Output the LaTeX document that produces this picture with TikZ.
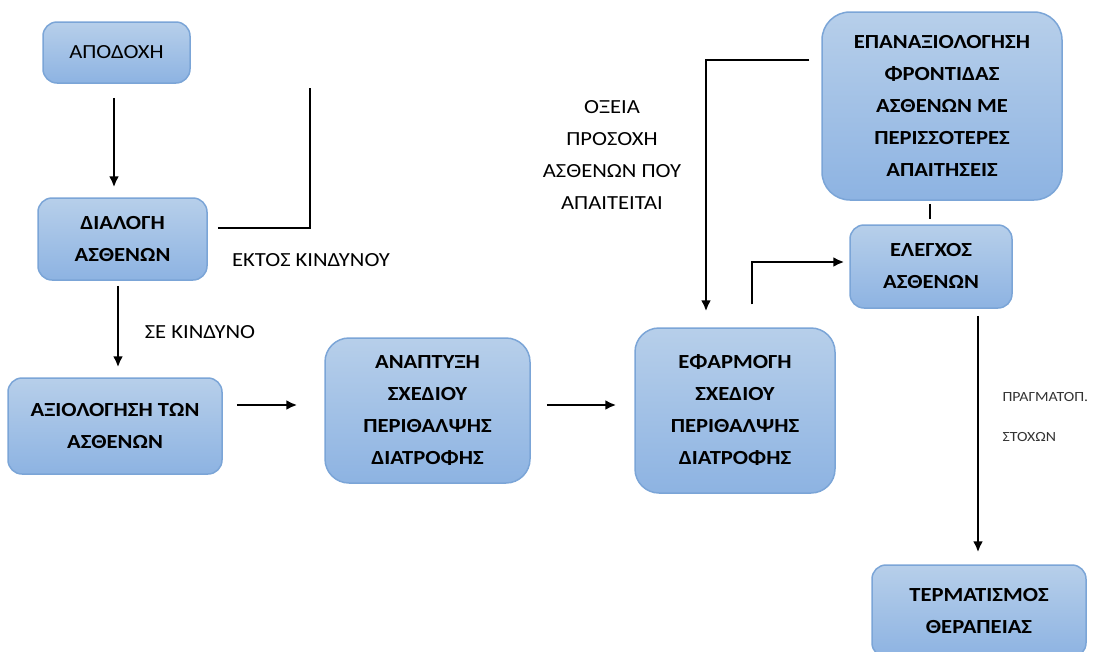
\documentclass[tikz,border=0pt]{standalone}
\usepackage{fontspec}
\setmainfont{Carlito}[FakeStretch=1.13]
\usetikzlibrary{arrows.meta}
\definecolor{boxtop}{HTML}{B7CFEA}
\definecolor{boxbot}{HTML}{8DB3E2}
\definecolor{boxline}{HTML}{7BA5D7}
\tikzset{
 box/.style={draw=boxline, line width=1.5pt, top color=boxtop, bottom color=boxbot, rounded corners=14pt, align=center, font=\fontsize{20}{32}\selectfont\bfseries, inner sep=0pt},
 arr/.style={line width=2.8pt, -{Latex[length=11pt,width=10pt]}},
 conn/.style={line width=2.8pt},
 lbl/.style={align=center, font=\fontsize{20}{32}\selectfont}
}
\begin{document}
\begin{tikzpicture}[x=1pt, y=-1pt]
\useasboundingbox (0,0) rectangle (1108,651);
\clip (0,0) rectangle (1108,651);

% boxes
\node[box, font=\fontsize{20}{32}\selectfont, minimum width=147pt, minimum height=61pt] (apod) at (116.5,52.5) {ΑΠΟΔΟΧΗ};
\node[box, minimum width=169pt, minimum height=82pt] (dial) at (122.5,239) {ΔΙΑΛΟΓΗ\\ΑΣΘΕΝΩΝ};
\node[box, minimum width=214pt, minimum height=96pt] (axiol) at (115,426) {ΑΞΙΟΛΟΓΗΣΗ ΤΩΝ\\ΑΣΘΕΝΩΝ};
\node[box, rounded corners=24pt, minimum width=205pt, minimum height=145pt] (anapt) at (427.5,410.5) {ΑΝΑΠΤΥΞΗ\\ΣΧΕΔΙΟΥ\\ΠΕΡΙΘΑΛΨΗΣ\\ΔΙΑΤΡΟΦΗΣ};
\node[box, rounded corners=24pt, minimum width=200pt, minimum height=165pt] (efarm) at (735,410.5) {ΕΦΑΡΜΟΓΗ\\ΣΧΕΔΙΟΥ\\ΠΕΡΙΘΑΛΨΗΣ\\ΔΙΑΤΡΟΦΗΣ};
\node[box, rounded corners=28pt, minimum width=240pt, minimum height=188pt] (epan) at (942,106) {ΕΠΑΝΑΞΙΟΛΟΓΗΣΗ\\ΦΡΟΝΤΙΔΑΣ\\ΑΣΘΕΝΩΝ ΜΕ\\ΠΕΡΙΣΣΟΤΕΡΕΣ\\ΑΠΑΙΤΗΣΕΙΣ};
\node[box, minimum width=162pt, minimum height=83pt] (elegx) at (931,266.5) {ΕΛΕΓΧΟΣ\\ΑΣΘΕΝΩΝ};
\node[box, minimum width=214pt, minimum height=92pt] (term) at (979,611) {ΤΕΡΜΑΤΙΣΜΟΣ\\ΘΕΡΑΠΕΙΑΣ};

% labels
\node[lbl] (ektos) at (311,260) {ΕΚΤΟΣ ΚΙΝΔΥΝΟΥ};
\node[lbl] (se) at (200,332) {ΣΕ ΚΙΝΔΥΝΟ};
\node[lbl] (oxeia) at (612,155) {ΟΞΕΙΑ\\ΠΡΟΣΟΧΗ\\ΑΣΘΕΝΩΝ ΠΟΥ\\ΑΠΑΙΤΕΙΤΑΙ};
\node[lbl, align=left, anchor=west, font=\fontsize{14}{40}\selectfont, text=black!80] (pragm) at (999,417) {ΠΡΑΓΜΑΤΟΠ.\\ΣΤΟΧΩΝ};

\coordinate (ektosend) at (310,88);

% connectors
\draw[arr, shorten <=14pt, shorten >=10pt] ([xshift=-2.5pt]apod.south) -- ([xshift=-2.5pt]apod.south |- dial.north);
\draw[conn] ([xshift=10pt,yshift=11pt]dial.east) -| (ektosend);
\draw[arr, shorten <=5pt, shorten >=10pt] ([xshift=-4.5pt]dial.south) -- ([xshift=-4.5pt]dial.south |- axiol.north);
\draw[arr, shorten <=14pt, shorten >=27pt] ([yshift=21pt]axiol.east) -- ([yshift=21pt]axiol.east -| anapt.west);
\draw[arr, shorten <=16pt, shorten >=18pt] ([yshift=5.5pt]anapt.east) -- ([yshift=5.5pt]anapt.east -| efarm.west);
\draw[arr] ([xshift=-12pt,yshift=46pt]epan.west) -| ([xshift=-29pt,yshift=16pt]efarm.north);
\draw[arr] ([xshift=17pt,yshift=23pt]efarm.north) |- ([xshift=-5pt,yshift=4.5pt]elegx.west);
\draw[conn, shorten <=3pt, shorten >=5pt] ([xshift=-12pt]epan.south) -- ([xshift=-12pt]epan.south |- elegx.north);
\draw[arr, shorten <=7pt, shorten >=12pt] ([xshift=47pt]elegx.south) -- ([xshift=47pt]elegx.south |- term.north);

\end{tikzpicture}
\end{document}
